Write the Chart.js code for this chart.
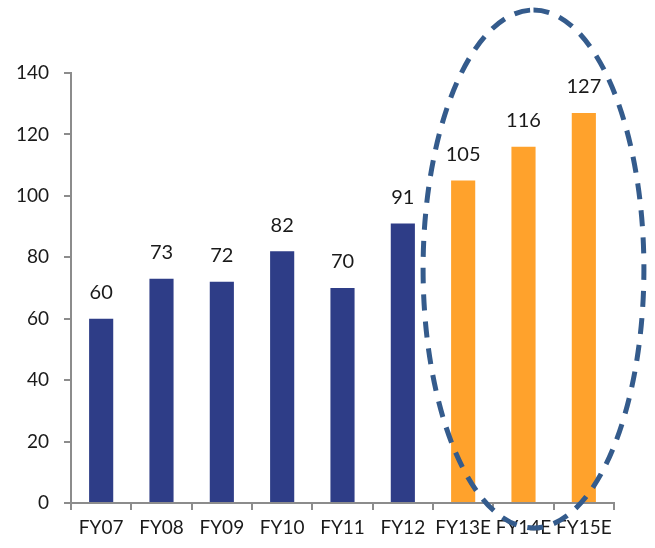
<!DOCTYPE html>
<html>
<head>
<meta charset="utf-8">
<script src="https://cdn.jsdelivr.net/npm/chart.js@4/dist/chart.umd.min.js"></script>
<style>
  html, body { margin: 0; padding: 0; background: #ffffff; }
  #wrap { width: 655px; height: 548px; position: relative; }
</style>
</head>
<body>
<div id="wrap"><canvas id="c" width="655" height="548"></canvas></div>
<script>
// Fiscal years (E = estimate)
const categories = ['FY07', 'FY08', 'FY09', 'FY10', 'FY11', 'FY12', 'FY13E', 'FY14E', 'FY15E'];
const values = [60, 73, 72, 82, 70, 91, 105, 116, 127];
const isEstimate = [false, false, false, false, false, false, true, true, true];
const yTicks = [0, 20, 40, 60, 80, 100, 120, 140];

const ACTUAL = '#2E3D87';
const ESTIMATE = '#FFA22C';
const AXIS = '#8C8C8C';
const FONT = 'Lato, "Open Sans", sans-serif';

// Value labels above each bar
const valueLabels = {
  id: 'valueLabels',
  afterDatasetsDraw(chart) {
    const ctx = chart.ctx;
    const meta = chart.getDatasetMeta(0);
    ctx.save();
    ctx.font = '20px ' + FONT;
    ctx.fillStyle = '#1a1a1a';
    ctx.textAlign = 'center';
    ctx.textBaseline = 'middle';
    meta.data.forEach((bar, i) => {
      ctx.fillText(String(values[i]), bar.x, bar.y - 26);
    });
    ctx.restore();
  }
};

// Dashed ellipse around the estimate years
const estimateRing = {
  id: 'estimateRing',
  afterDraw(chart) {
    const x = chart.scales.x;
    const area = chart.chartArea;
    const first = isEstimate.indexOf(true);
    const last = isEstimate.lastIndexOf(true);
    const step = x.getPixelForValue(1) - x.getPixelForValue(0);
    const cx = (x.getPixelForValue(first) + x.getPixelForValue(last)) / 2 + 10;
    const top = area.top - 63;
    const bottom = area.bottom + 25;
    const cy = (top + bottom) / 2;
    const rx = step * 1.83;
    const ry = (bottom - top) / 2;
    const ctx = chart.ctx;
    ctx.save();
    ctx.strokeStyle = '#345B8C';
    ctx.lineWidth = 5;
    ctx.setLineDash([16, 11]);
    ctx.beginPath();
    ctx.ellipse(cx, cy, rx, ry, 0, -Math.PI / 2, 1.5 * Math.PI);
    ctx.stroke();
    ctx.restore();
  }
};

new Chart(document.getElementById('c'), {
  type: 'bar',
  data: {
    labels: categories,
    datasets: [{
      data: values,
      backgroundColor: isEstimate.map(e => e ? ESTIMATE : ACTUAL),
      barPercentage: 0.4,
      categoryPercentage: 1.0
    }]
  },
  options: {
    responsive: false,
    animation: false,
    events: [],
    layout: { padding: { top: 73, right: 41, bottom: 0, left: 0 } },
    plugins: { legend: { display: false }, tooltip: { enabled: false } },
    scales: {
      x: {
        grid: { display: true, drawOnChartArea: false, drawTicks: true, tickLength: 7, color: AXIS, lineWidth: 2 },
        border: { display: true, color: AXIS, width: 2 },
        ticks: { color: '#1a1a1a', font: { family: FONT, size: 19 }, padding: 6, maxRotation: 0, autoSkip: false },
        afterFit(s) { s.height = 45; }
      },
      y: {
        min: 0,
        max: 140,
        afterBuildTicks(s) { s.ticks = yTicks.map(v => ({ value: v })); },
        grid: { display: true, drawOnChartArea: false, drawTicks: true, tickLength: 7, color: AXIS, lineWidth: 2 },
        border: { display: true, color: AXIS, width: 2 },
        ticks: { color: '#1a1a1a', font: { family: FONT, size: 19 }, padding: 15 },
        afterFit(s) { s.width = 71; }
      }
    }
  },
  plugins: [valueLabels, estimateRing]
});
</script>
</body>
</html>
